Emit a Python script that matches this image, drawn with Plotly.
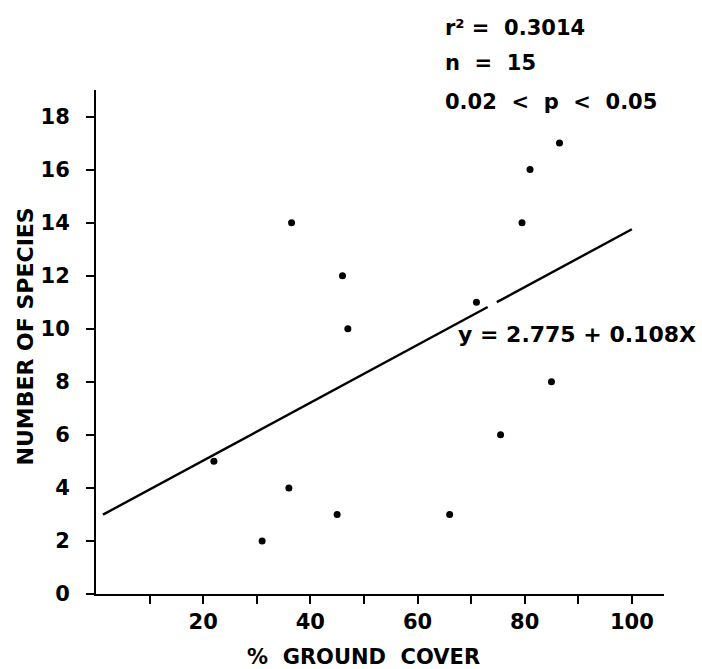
import plotly.graph_objects as go

# Data
ground_cover = [22, 31, 36, 36.5, 45, 46, 47, 66, 71, 75.5, 79.5, 81, 85, 86.5]
species = [5, 2, 4, 14, 3, 12, 10, 3, 11, 6, 14, 16, 8, 17]

# regression line (as drawn): endpoints, with a small gap in the drawn line
line_x_a = [1.3, 73.1]
line_x_b = [74.8, 100]
intercept = 2.85
slope = 0.109

x_tickvals = [10, 20, 30, 40, 50, 60, 70, 80, 90, 100]
x_ticktext = ["", "20", "", "40", "", "60", "", "80", "", "100"]
y_tickvals = [0, 2, 4, 6, 8, 10, 12, 14, 16, 18]
y_ticktext = ["0", "2", "4", "6", "8", "10", "12", "14", "16", "18"]

stats_text = ["r\u00b2 =  0.3014", "n  =  15", "0.02  <  p  <  0.05"]
equation_text = "y = 2.775 + 0.108X"
x_title = "%  GROUND  COVER"
y_title = "NUMBER OF SPECIES"

FONT = "DejaVu Sans"
def f(size):
    return dict(family=FONT, size=size, color="black", weight="bold")

fig = go.Figure()
for xs in (line_x_a, line_x_b):
    fig.add_trace(go.Scatter(
        x=xs, y=[intercept + slope * v for v in xs], mode="lines",
        line=dict(color="black", width=2.4), showlegend=False, hoverinfo="skip"))

fig.add_trace(go.Scatter(
    x=ground_cover, y=species, mode="markers",
    marker=dict(color="black", size=7), showlegend=False))

stat_y = [1.123, 1.0526, 0.977]
for t, yy in zip(stats_text, stat_y):
    fig.add_annotation(x=0.611, y=yy, xref="paper", yref="paper", text=t, showarrow=False,
                       xanchor="left", yanchor="middle", font=f(21))
fig.add_annotation(x=0.634, y=0.515, xref="paper", yref="paper", text=equation_text, showarrow=False,
                   xanchor="left", yanchor="middle", font=f(22))

# axis titles
fig.add_annotation(x=0.5, y=-0.125, xref="paper", yref="paper", text=x_title, showarrow=False,
                   xanchor="center", yanchor="middle", font=f(21), xshift=-17)
fig.add_annotation(x=0, y=0.511, xref="paper", yref="paper", text=y_title, showarrow=False,
                   xanchor="center", yanchor="middle", font=f(22), textangle=-90, xshift=-71)

fig.update_layout(
    width=702, height=669,
    margin=dict(l=96, r=38, t=90, b=75),
    plot_bgcolor="white", paper_bgcolor="white",
    font=f(21),
)
fig.update_xaxes(
    range=[0, 106], showgrid=False, zeroline=False,
    showline=True, linecolor="black", linewidth=2,
    ticks="outside", ticklen=8, tickwidth=2, tickcolor="black",
    tickvals=x_tickvals, ticktext=x_ticktext, tickfont=f(21),
)
fig.update_yaxes(
    range=[0, 19], showgrid=False, zeroline=False,
    showline=True, linecolor="black", linewidth=2,
    ticks="outside", ticklen=8, tickwidth=2, tickcolor="black",
    tickvals=y_tickvals, ticktext=y_ticktext, tickfont=f(21),
    ticklabelstandoff=12,
)

fig.write_html("out.html")
